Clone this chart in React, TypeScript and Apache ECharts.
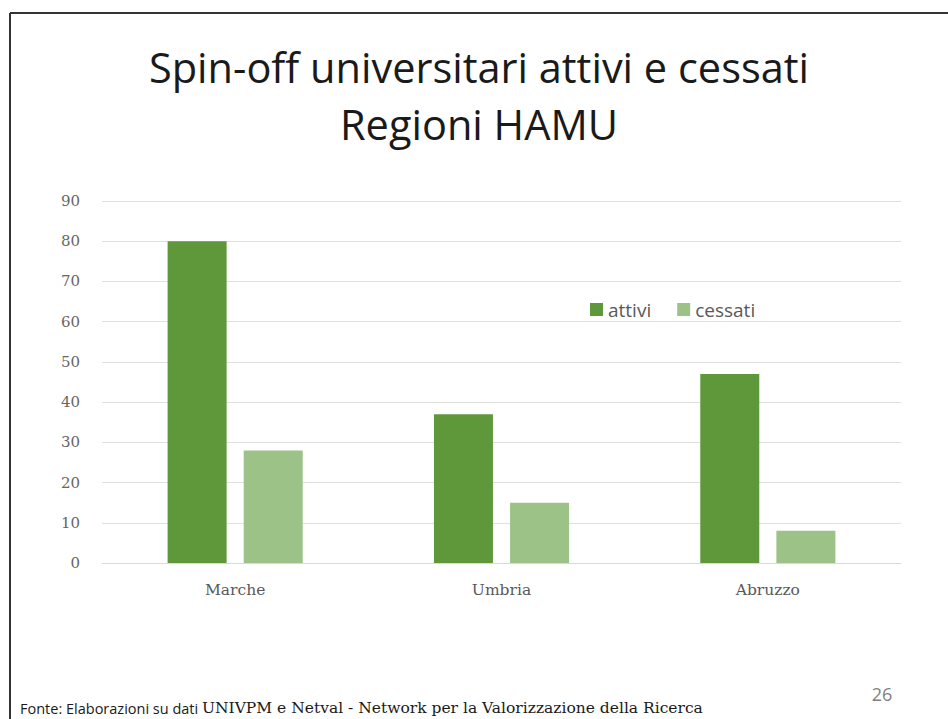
import React, { useEffect, useRef } from "react";
import * as echarts from "echarts";

const categories = ["Marche", "Umbria", "Abruzzo"];
const attivi = [80, 37, 47];
const cessati = [28, 15, 8];
const seriesNames = ["attivi", "cessati"];
const titleLines = ["Spin-off universitari attivi e cessati", "Regioni HAMU"];
const footerSans = "Fonte: Elaborazioni su dati ";
const footerSerif = "UNIVPM e Netval - Network per la Valorizzazione della Ricerca";
const pageNumber = "26";

export default function App() {
  const ref = useRef<HTMLDivElement>(null);
  useEffect(() => {
    document.body.style.margin = "0";
    const chart = echarts.init(ref.current!, null, { renderer: "svg" });
    chart.setOption({
      animation: false,
      backgroundColor: "#ffffff",
      title: [
        {
          text: titleLines.join("\n"),
          left: 474,
          top: 33,
          textAlign: "center",
          textStyle: {
            fontFamily: "Open Sans",
            fontWeight: "normal",
            fontSize: 41.5,
            lineHeight: 57,
            color: "#1a1a1a",
          },
        },
      ],
      legend: {
        data: seriesNames,
        left: 585,
        top: 295,
        itemWidth: 13,
        itemHeight: 13,
        itemGap: 26,
        icon: "rect",
        textStyle: { fontFamily: "Open Sans", fontSize: 19, color: "#595959", padding: [0, 0, 0, 0] },
      },
      grid: { left: 102, right: 47, top: 201, bottom: 156 },
      xAxis: {
        type: "category",
        data: categories,
        axisLine: { lineStyle: { color: "#d9d9d9" } },
        axisTick: { show: false },
        axisLabel: { fontFamily: "DejaVu Serif", fontSize: 15.5, color: "#595959", margin: 19 },
      },
      yAxis: {
        type: "value",
        min: 0,
        max: 90,
        interval: 10,
        axisLine: { show: false },
        axisTick: { show: false },
        splitLine: { lineStyle: { color: "#e0e0e0" } },
        axisLabel: { fontFamily: "DejaVu Serif", fontSize: 15, color: "#666666", margin: 22 },
      },
      series: [
        {
          name: seriesNames[0],
          type: "bar",
          data: attivi,
          barWidth: 59,
          barGap: "29%",
          itemStyle: { color: "#5f973b" },
        },
        {
          name: seriesNames[1],
          type: "bar",
          data: cessati,
          barWidth: 59,
          itemStyle: { color: "#9dc287" },
        },
      ],
      graphic: [
        { type: "line", shape: { x1: 10, y1: 13, x2: 10, y2: 719 }, style: { stroke: "#333333", lineWidth: 2 } },
        { type: "line", shape: { x1: 10, y1: 13, x2: 948, y2: 13 }, style: { stroke: "#333333", lineWidth: 2 } },
        {
          type: "text",
          x: 20,
          y: 716,
          style: {
            text: "{a|" + footerSans + "}{b|" + footerSerif + "}",
            textVerticalAlign: "bottom",
            rich: {
              a: { fontFamily: "Open Sans", fontSize: 14.5, fill: "#1a1a1a" },
              b: { fontFamily: "DejaVu Serif", fontSize: 15.5, fill: "#1a1a1a" },
            },
          },
        },
        {
          type: "text",
          x: 882,
          y: 694,
          style: {
            text: pageNumber,
            textAlign: "center",
            textVerticalAlign: "middle",
            fontFamily: "Open Sans",
            fontSize: 18,
            fill: "#7f7f7f",
          },
        },
      ],
    });
    return () => chart.dispose();
  }, []);
  return <div ref={ref} style={{ width: 948, height: 719 }} />;
}
